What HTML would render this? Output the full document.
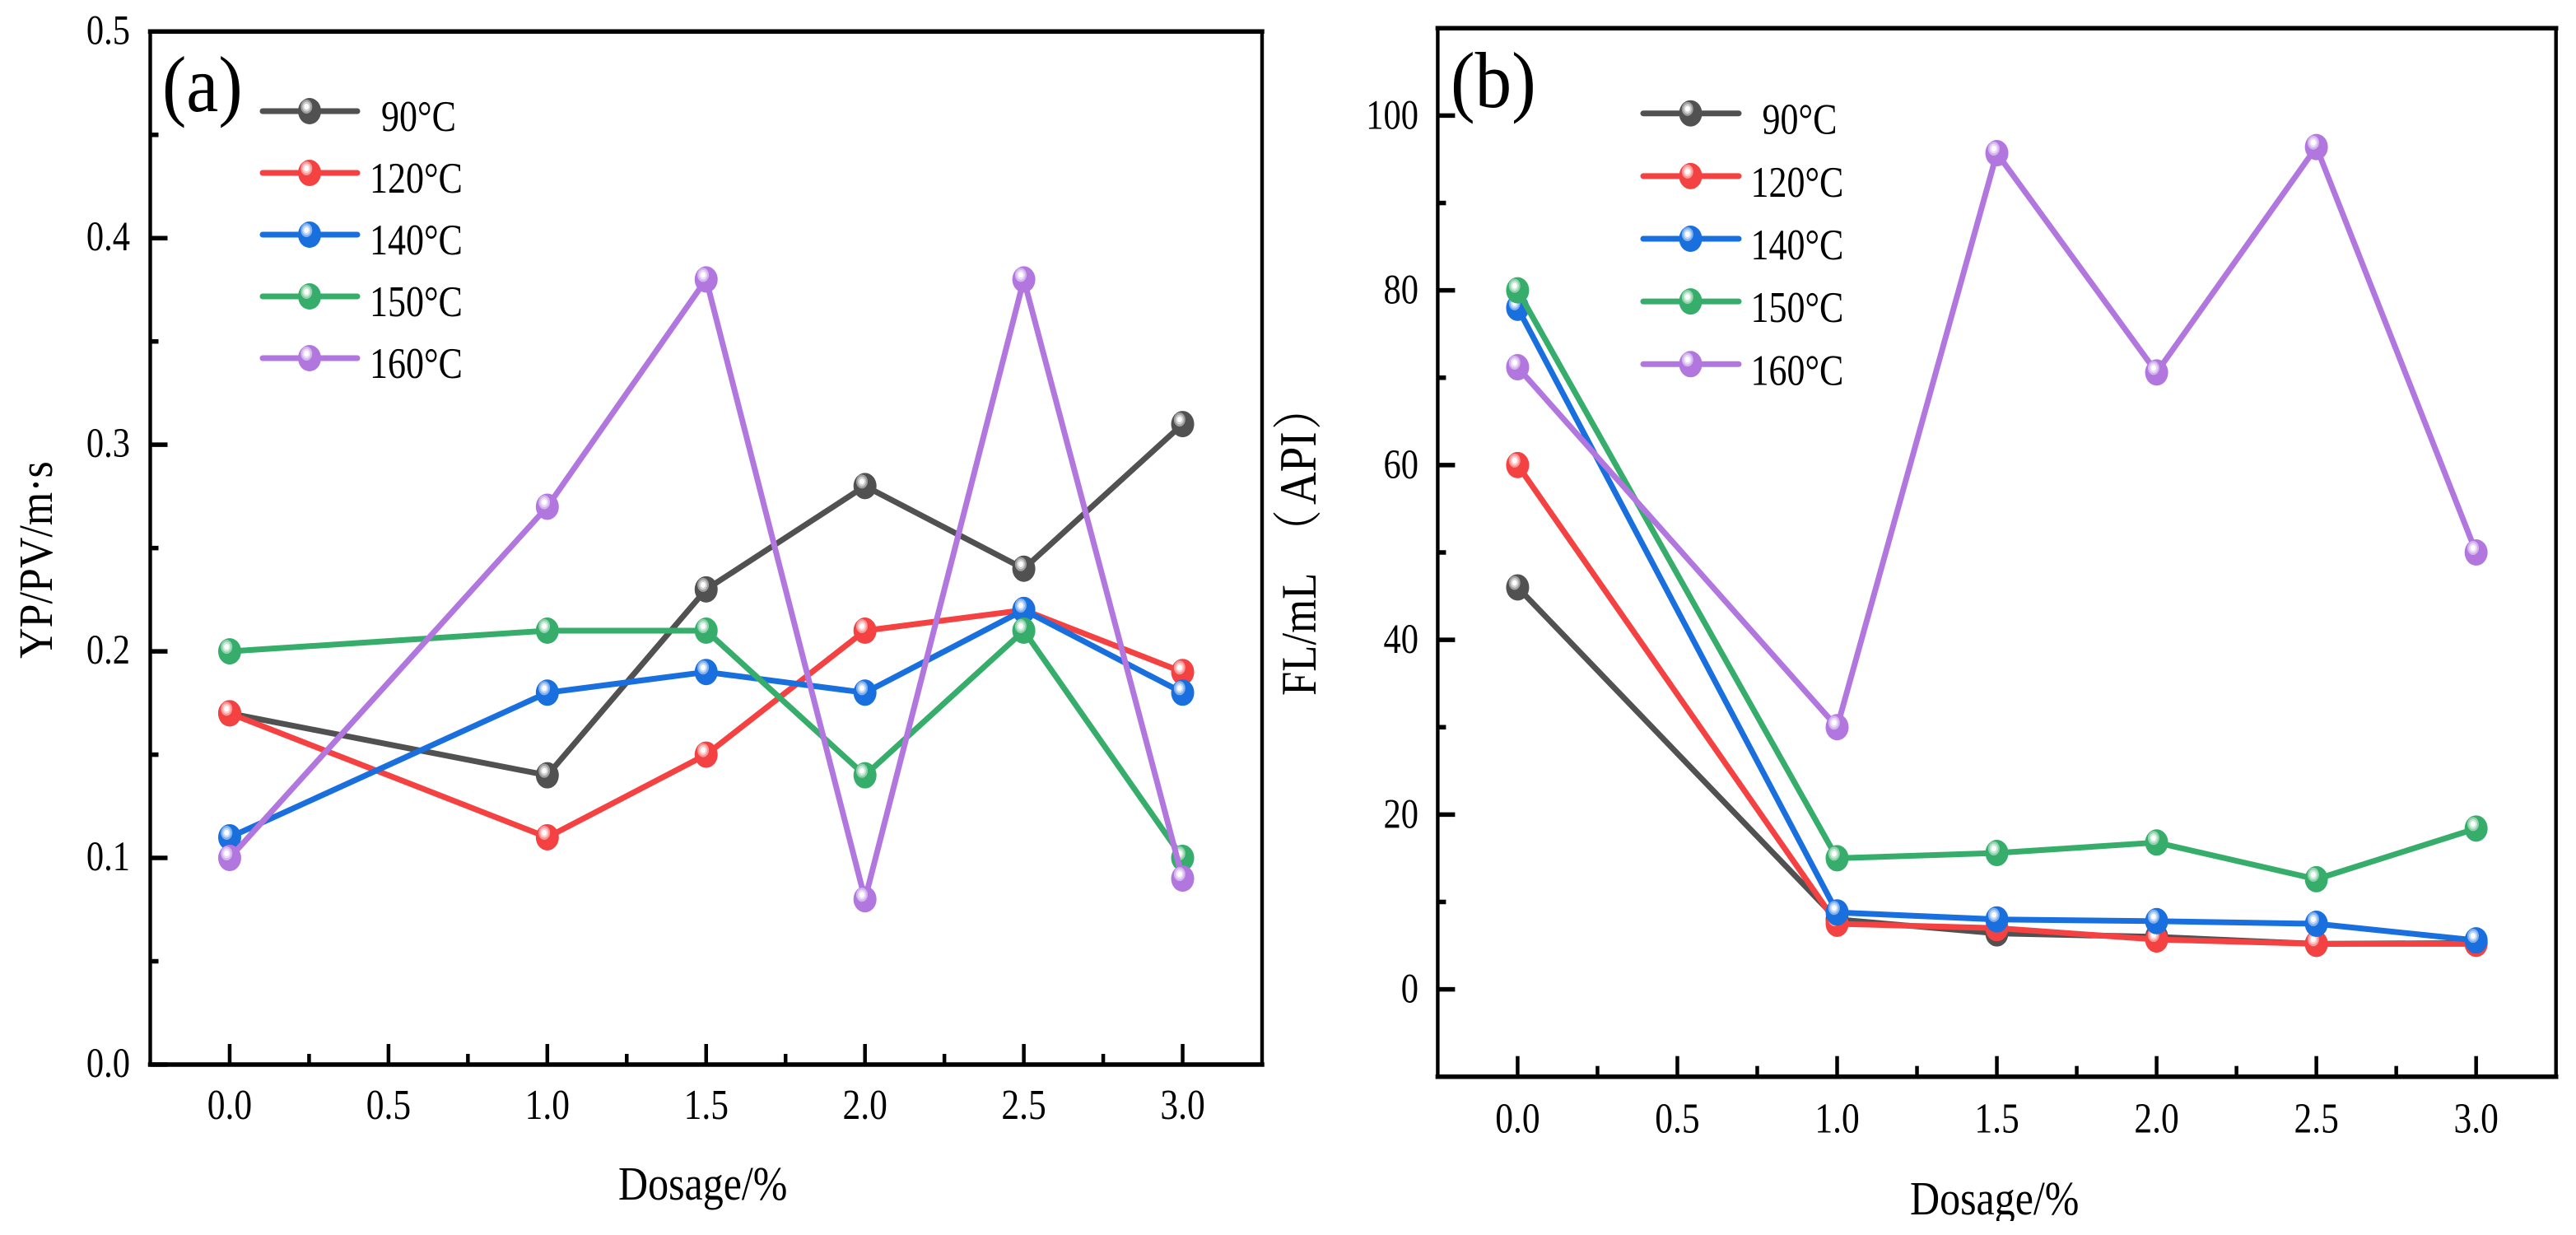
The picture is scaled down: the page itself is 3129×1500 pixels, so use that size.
<!DOCTYPE html>
<html lang="en">
<head>
<meta charset="utf-8">
<title>YP/PV and FL versus dosage</title>
<style>
html,body{margin:0;padding:0;background:#fff;width:3129px;height:1500px;overflow:hidden}
svg{display:block}
text{font-family:"Liberation Serif","Noto Serif CJK SC",serif;fill:#000;font-kerning:normal}
</style>
</head>
<body>
<svg id="figure" xmlns="http://www.w3.org/2000/svg" width="3129" height="1500" viewBox="0 0 3129 1500">
  <rect width="3129" height="1500" fill="#fff"/>
  <g id="panelA"></g>
  <g id="panelB"></g>
  <text font-size="88" transform="translate(197,135) scale(1,1.09)">(a)</text>
  <text font-size="89" transform="translate(1762,130) scale(1,1.08)">(b)</text>
  <text font-size="52" transform="translate(63,800) rotate(-90) scale(1,1.11)">YP/PV/m·s</text>
  <text font-size="52.7" transform="translate(1598,845) rotate(-90) scale(1,1.15)"><tspan x="0">FL/mL</tspan><tspan x="173">（</tspan><tspan x="232" font-size="55">API</tspan><tspan x="323">）</tspan></text>
  <text font-size="50" transform="translate(751,1457) scale(1,1.16)">Dosage/%</text>
  <text font-size="50" transform="translate(2320,1475) scale(1,1.16)">Dosage/%</text>
  <rect x="2300" y="1483" width="300" height="17" fill="#fff"/>
</svg>
<script>
const seriesNames = ['90°C', '120°C', '140°C', '150°C', '160°C'];
const seriesColors = ['#515151', '#F44141', '#1A6FDF', '#37AD6B', '#B177DE'];
const dosage = [0, 1, 1.5, 2, 2.5, 3];
const xTickLabels = ['0.0', '0.5', '1.0', '1.5', '2.0', '2.5', '3.0'];
const xMinorTicks = [0.25, 0.75, 1.25, 1.75, 2.25, 2.75];

const ypPv90 = [0.17, 0.14, 0.23, 0.28, 0.24, 0.31];
const ypPv120 = [0.17, 0.11, 0.15, 0.21, 0.22, 0.19];
const ypPv140 = [0.11, 0.18, 0.19, 0.18, 0.22, 0.18];
const ypPv150 = [0.20, 0.21, 0.21, 0.14, 0.21, 0.10];
const ypPv160 = [0.10, 0.27, 0.38, 0.08, 0.38, 0.09];
const ypPvTickLabels = ['0.0', '0.1', '0.2', '0.3', '0.4', '0.5'];
const ypPvMinorTicks = [0.05, 0.15, 0.25, 0.35, 0.45];

const fl90 = [46, 8, 6.4, 6, 5.2, 5.3];
const fl120 = [60, 7.5, 7, 5.7, 5.2, 5.2];
const fl140 = [78, 8.8, 8, 7.8, 7.5, 5.6];
const fl150 = [80, 15, 15.6, 16.8, 12.6, 18.4];
const fl160 = [71.2, 30, 95.7, 70.6, 96.4, 50];
const flTickLabels = ['0', '20', '40', '60', '80', '100'];
const flMinorTicks = [10, 30, 50, 70, 90];

const NS = 'http://www.w3.org/2000/svg';

function make(parent, tag, attrs) {
  const el = document.createElementNS(NS, tag);
  for (const k in attrs) el.setAttribute(k, attrs[k]);
  parent.appendChild(el);
  return el;
}

function scale(d0, d1, r0, r1) {
  return function (v) { return r0 + (v - d0) * (r1 - r0) / (d1 - d0); };
}

function drawMarker(parent, cx, cy, color) {
  const g = make(parent, 'g', {});
  
  
  make(g, 'ellipse', { cx: cx, cy: cy, rx: 14, ry: 16, fill: color });
  make(g, 'ellipse', { cx: cx - 3.7, cy: cy - 5.5, rx: 7, ry: 8.5, fill: '#fff', 'fill-opacity': 0.45 });
  make(g, 'ellipse', { cx: cx - 3.7, cy: cy - 5.5, rx: 5, ry: 6, fill: '#fff', 'fill-opacity': 0.5 });
  make(g, 'ellipse', { cx: cx - 3.7, cy: cy - 5.5, rx: 3, ry: 3.5, fill: '#fff' });
}

function drawPanel(cfg) {
  const root = document.getElementById(cfg.id);
  const xs = scale(cfg.xDomain[0], cfg.xDomain[1], cfg.left, cfg.right);
  const ys = scale(cfg.yDomain[0], cfg.yDomain[1], cfg.bottom, cfg.top);

  cfg.yTickLabels.forEach(function (label) {
    const y = ys(parseFloat(label));
    if (y > cfg.top + 3) {
      const tick = make(root, 'line', { x1: cfg.left, x2: cfg.left + 21, y1: y, y2: y, stroke: '#000', 'stroke-width': 5.5 });
      
      
    }
    const t = make(root, 'text', { 'font-size': 42.5, 'text-anchor': 'end', transform: 'translate(' + cfg.yLabelX + ',' + (y + cfg.yLabelDy) + ') scale(1,1.2)' });
    t.textContent = label;
    
    
  });
  cfg.yMinorTicks.forEach(function (v) {
    const y = ys(v);
    const tick = make(root, 'line', { x1: cfg.left, x2: cfg.left + 10, y1: y, y2: y, stroke: '#000', 'stroke-width': 5.5 });
    
    
  });
  xTickLabels.forEach(function (label) {
    const x = xs(parseFloat(label));
    const tick = make(root, 'line', { x1: x, x2: x, y1: cfg.bottom, y2: cfg.bottom - 25, stroke: '#000', 'stroke-width': 4.5 });
    
    
    const t = make(root, 'text', { 'font-size': 43.5, 'text-anchor': 'middle', transform: 'translate(' + x + ',' + cfg.xLabelY + ') scale(1,1.2)' });
    t.textContent = label;
    
    
  });
  xMinorTicks.forEach(function (v) {
    const x = xs(v);
    const tick = make(root, 'line', { x1: x, x2: x, y1: cfg.bottom, y2: cfg.bottom - 13, stroke: '#000', 'stroke-width': 4.5 });
    
    
  });

  const frame = make(root, 'g', { stroke: '#000', 'stroke-linecap': 'square' });
  
  
  make(frame, 'line', { x1: cfg.left, x2: cfg.right, y1: cfg.top, y2: cfg.top, 'stroke-width': 5.5 });
  make(frame, 'line', { x1: cfg.left, x2: cfg.right, y1: cfg.bottom, y2: cfg.bottom, 'stroke-width': 5.5 });
  make(frame, 'line', { x1: cfg.left, x2: cfg.left, y1: cfg.top, y2: cfg.bottom, 'stroke-width': 4.4 });
  make(frame, 'line', { x1: cfg.right, x2: cfg.right, y1: cfg.top, y2: cfg.bottom, 'stroke-width': 4.4 });

  cfg.series.forEach(function (values, i) {
    const color = seriesColors[i];
    const g = make(root, 'g', {});
    
    
    const pts = values.map(function (v, j) { return xs(dosage[j]) + ',' + ys(v); }).join(' ');
    const line = make(g, 'polyline', { points: pts, fill: 'none', stroke: color, 'stroke-width': 7, 'stroke-linejoin': 'round' });
    
    
    values.forEach(function (v, j) { drawMarker(g, xs(dosage[j]), ys(v), color); });
  });

  seriesNames.forEach(function (name, i) {
    const y = cfg.legendY + i * cfg.legendStep;
    const g = make(root, 'g', {});
    
    
    make(g, 'line', { x1: cfg.legendX0, x2: cfg.legendX1, y1: y, y2: y, stroke: seriesColors[i], 'stroke-width': 7, 'stroke-linecap': 'round' });
    drawMarker(g, (cfg.legendX0 + cfg.legendX1) / 2 - 0.5, y, seriesColors[i]);
    const tx = i === 0 ? cfg.legendTextX + 14 : cfg.legendTextX;
    const t = make(g, 'text', { 'font-size': 44, transform: 'translate(' + tx + ',' + (y + cfg.legendTextDy) + ') scale(1,1.2)' });
    t.textContent = name;
    
    
  });
}

drawPanel({
  id: 'panelA', left: 182.5, right: 1533, top: 38.3, bottom: 1293,
  xDomain: [-0.25, 3.25], yDomain: [0, 0.5],
  series: [ypPv90, ypPv120, ypPv140, ypPv150, ypPv160],
  yTickLabels: ypPvTickLabels, yMinorTicks: ypPvMinorTicks,
  yLabelX: 158, yLabelDy: 15, xLabelY: 1359,
  legendX0: 319, legendX1: 434, legendY: 135, legendStep: 75, legendTextX: 449, legendTextDy: 24
});

drawPanel({
  id: 'panelB', left: 1746.4, right: 3104.7, top: 34.3, bottom: 1307.7,
  xDomain: [-0.25, 3.25], yDomain: [-10, 110],
  series: [fl90, fl120, fl140, fl150, fl160],
  yTickLabels: flTickLabels, yMinorTicks: flMinorTicks,
  yLabelX: 1723, yLabelDy: 16, xLabelY: 1375.5,
  legendX0: 1996, legendX1: 2112, legendY: 137.7, legendStep: 76.15, legendTextX: 2126.5, legendTextDy: 25
});
</script>
</body>
</html>
